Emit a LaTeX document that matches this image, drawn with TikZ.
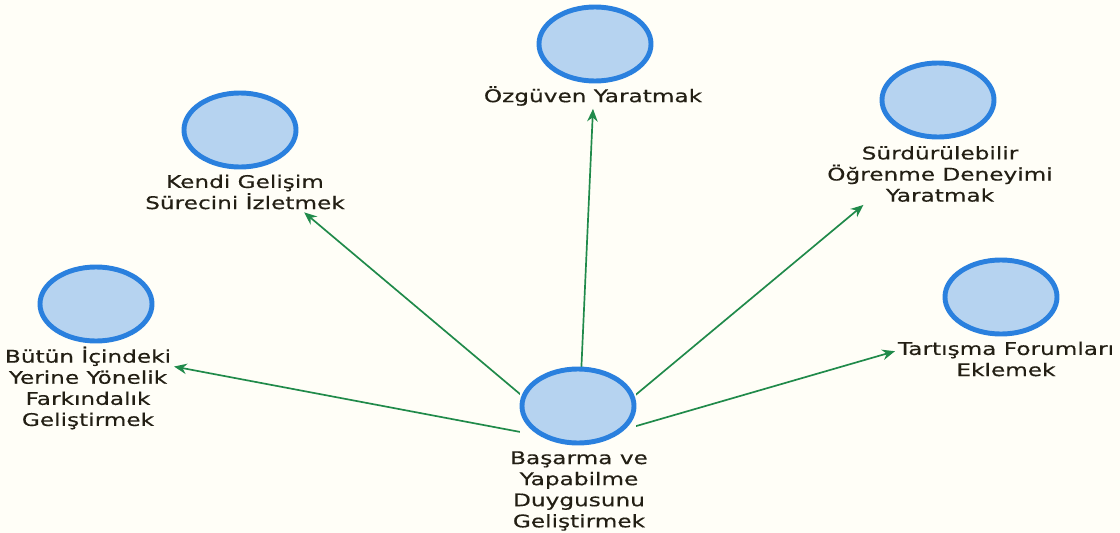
\documentclass[tikz,border=0pt]{standalone}
\usepackage{fontspec}
\setmainfont{DejaVu Sans}[FakeStretch=1.33, FakeBold=0.4]
\usepackage{tikz}
\usetikzlibrary{arrows.meta, backgrounds}
\definecolor{bgcream}{HTML}{FFFEF7}
\definecolor{ringblue}{HTML}{2A80DE}
\definecolor{fillblue}{HTML}{B6D3F0}
\definecolor{linkgreen}{HTML}{208A4A}
\definecolor{labeltext}{HTML}{231F14}

\begin{document}
\begin{tikzpicture}[x=0.025cm, y=-0.025cm,
    topic/.style={rectangle, fill=bgcream, inner sep=0pt,
        minimum width=2.92cm, minimum height=1.97cm,
        path picture={\draw[ringblue, fill=fillblue, line width=3.5pt]
            (path picture bounding box.center) ellipse [x radius=1.4cm, y radius=0.925cm];}},
    caption/.style={align=center, text=labeltext, inner sep=2pt,
        font=\fontsize{12.4}{15}\selectfont},
    link/.style={-{Stealth[length=9pt,width=7.5pt]}, line width=1.2pt, draw=linkgreen}]
    \useasboundingbox (0,0) rectangle (1120,533);
    % 中央
    \node[topic] (base) at (578,406) {};
    \node[caption] (baseTxt) at (579,491) {Başarma ve\\Yapabilme\\Duygusunu\\Geliştirmek};
    % 周り
    \node[topic] (ozg) at (595,44) {};
    \node[caption] (ozgTxt) at (593,96) {Özgüven Yaratmak};
    \node[topic] (kendi) at (240,130) {};
    \node[caption] (kendiTxt) at (245,192) {Kendi Gelişim\\Sürecini İzletmek};
    \node[topic] (surd) at (938,100) {};
    \node[caption] (surdTxt) at (940,174) {Sürdürülebilir\\Öğrenme Deneyimi\\Yaratmak};
    \node[topic] (butun) at (96,304) {};
    \node[caption] (butunTxt) at (88,388) {Bütün İçindeki\\Yerine Yönelik\\Farkındalık\\Geliştirmek};
    \node[topic] (tart) at (1001,297) {};
    \node[caption] (tartTxt) at (1006,359) {Tartışma Forumları\\Eklemek};
    % 矢印 (円の下から)
    \begin{scope}[on background layer]
        \fill[bgcream] (0,0) rectangle (1120,533); %背景
        \draw[link] ([yshift=2pt]base.south) -- (ozgTxt.south);
        \draw[link] ([yshift=2pt]base.south) -- (kendiTxt.-19);
        \draw[link] ([yshift=2pt]base.south) -- (surdTxt.-158);
        \draw[link] ([yshift=2pt]base.south) -- (butunTxt.14);
        \draw[link] ([yshift=2pt]base.south) -- (tartTxt.176);
    \end{scope}
\end{tikzpicture}
\end{document}
